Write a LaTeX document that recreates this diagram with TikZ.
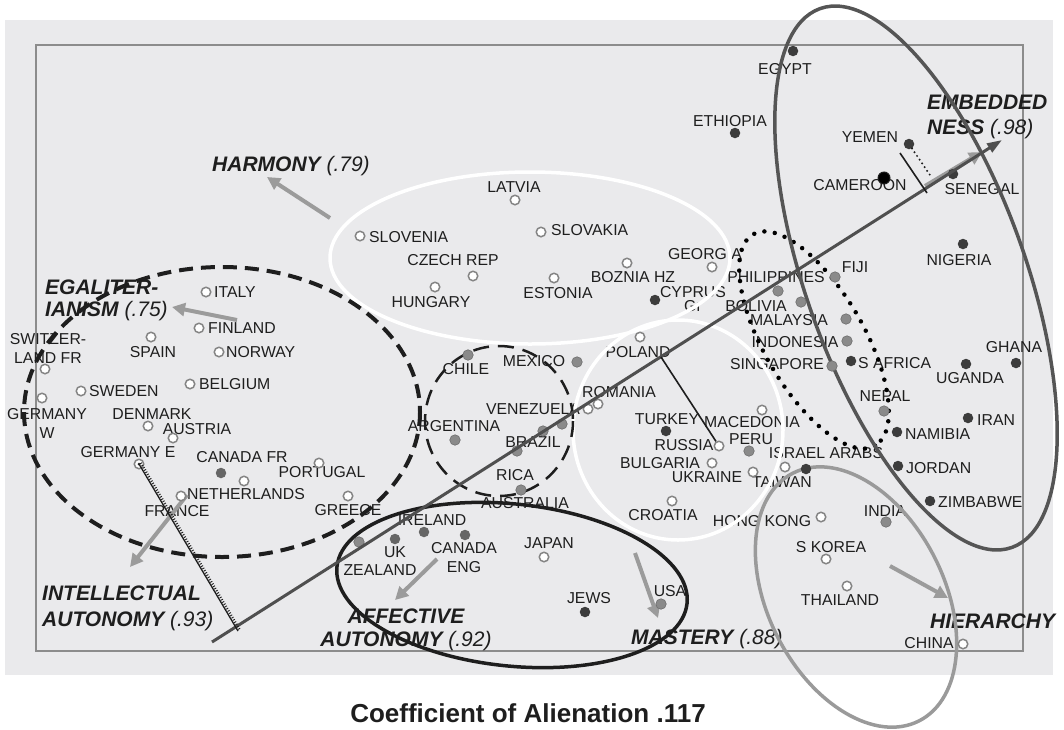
\documentclass[tikz,border=0pt]{standalone}
\usepackage{fontspec}
\setmainfont{Liberation Sans}
\usetikzlibrary{arrows.meta,calc}
\definecolor{bgc}{HTML}{EAEAEC}
\definecolor{framec}{HTML}{8C8C8C}
\definecolor{ink}{HTML}{1E1E1E}
\definecolor{axisc}{HTML}{4F4F4F}
\definecolor{arrowc}{HTML}{9B9B9B}
\definecolor{embc}{HTML}{555555}
\definecolor{hierc}{HTML}{9A9A9A}
\definecolor{ringc}{HTML}{858585}
\definecolor{midc}{HTML}{8A8A8A}
\definecolor{dgc}{HTML}{666666}
\definecolor{dkc}{HTML}{3C3C3C}
\tikzset{
  lb/.style={font=\fontsize{15.8}{19}\selectfont, text=ink, inner sep=0pt, align=center},
  cat/.style={font=\fontsize{21}{22}\selectfont\itshape, text=ink, inner sep=0pt},
  opn/.style={circle, draw=ringc, fill=white, line width=1.5pt, minimum size=9.5pt, inner sep=0pt},
  mid/.style={circle, fill=midc, draw=midc!80!black, line width=0.6pt, minimum size=10.5pt, inner sep=0pt},
  dg/.style={circle, fill=dgc, minimum size=10.5pt, inner sep=0pt},
  dk/.style={circle, fill=dkc, minimum size=10.5pt, inner sep=0pt},
  harm/.style={white, line width=3.5pt},
  egal/.style={ink, line width=4pt, dash pattern=on 14pt off 8pt},
  latin/.style={ink, line width=2.5pt, dash pattern=on 16pt off 9pt},
  mast/.style={ink, line width=3.5pt},
  dotring/.style={black, line width=4.5pt, line cap=round, dash pattern=on 0pt off 10.5pt},
  emb/.style={embc, line width=3.5pt},
  hier/.style={hierc, line width=3.5pt},
  catarrow/.style={arrowc, line width=4pt, -{Triangle[length=13pt,width=13pt]}},
  axisline/.style={axisc, line width=3pt, -{Triangle[length=15pt,width=10pt]}}
}
\begin{document}
\begin{tikzpicture}[x=1pt, y=-1pt]
\useasboundingbox (0,0) rectangle (1064,729);
\fill[bgc] (5,20) rectangle (1053,675);
\draw[framec, line width=2pt] (36,45) rectangle (1023,651);

% ---- value labels ----
\node[cat, anchor=base west] (c-harm) at (212,171.5) {\bfseries HARMONY \mdseries(.79)};
\node[cat, anchor=north west, align=left, font=\fontsize{21}{22}\selectfont\itshape] (c-egal) at (45,279.5) {\bfseries EGALITER-\\\bfseries IANISM \mdseries(.75)};
\node[cat, anchor=north west, align=left, font=\fontsize{21}{26}\selectfont\itshape] (c-intel) at (42,585.5) {\bfseries INTELLECTUAL\\\bfseries AUTONOMY \mdseries(.93)};
\node[cat, anchor=north, align=center, font=\fontsize{21}{23}\selectfont\itshape] (c-affect) at (406,608.5) {\bfseries AFFECTIVE\\\bfseries AUTONOMY \mdseries(.92)};
\node[cat, anchor=north west, align=left, font=\fontsize{21}{25}\selectfont\itshape] (c-emb) at (927,94.5) {\bfseries EMBEDDED\\\bfseries NESS \mdseries(.98)};
\node[cat, anchor=base west] (c-mast) at (631,644.5) {\bfseries MASTERY \mdseries(.88)};
\node[cat, anchor=base west] (c-hier) at (930,628.5) {\bfseries HIERARCHY};
\node[font=\fontsize{26}{30}\selectfont\bfseries, text=ink, inner sep=0pt] (title) at (528,713) {Coefficient of Alienation .117};

% ---- country labels ----
\node[lb, anchor=west] (l-ita) at (214,292) {ITALY};
\node[lb, anchor=west] (l-fin) at (208,328) {FINLAND};
\node[lb] (l-spa) at (153,352) {SPAIN};
\node[lb, anchor=west] (l-nor) at (226,352) {NORWAY};
\node[lb, anchor=north] (l-swi) at (48,333.4) {SWITZER-\\LAND FR};
\node[lb, anchor=west] (l-swe) at (89,391) {SWEDEN};
\node[lb, anchor=west] (l-bel) at (199,384) {BELGIUM};
\node[lb, anchor=north] (l-gew) at (47,408.4) {GERMANY\\W};
\node[lb] (l-den) at (152,414) {DENMARK};
\node[lb] (l-aus) at (197,429) {AUSTRIA};
\node[lb] (l-gee) at (128,452) {GERMANY E};
\node[lb] (l-cfr) at (242,457) {CANADA FR};
\node[lb] (l-net) at (246,494) {NETHERLANDS};
\node[lb] (l-fra) at (177,511) {FRANCE};
\node[lb] (l-por) at (322,472) {PORTUGAL};
\node[lb] (l-gre) at (348,510) {GREECE};
\node[lb] (l-lat) at (514,187) {LATVIA};
\node[lb, anchor=west] (l-slo) at (369,237) {SLOVENIA};
\node[lb, anchor=west] (l-slk) at (551,230) {SLOVAKIA};
\node[lb] (l-cze) at (453,260) {CZECH REP};
\node[lb] (l-hun) at (431,302) {HUNGARY};
\node[lb] (l-est) at (558,293) {ESTONIA};
\node[lb] (l-boz) at (633,277) {BOZNIA HZ};
\node[lb] (l-geo) at (705,254) {GEORGIA};
\node[lb, anchor=north, font=\fontsize{15.8}{14}\selectfont] (l-cyp) at (693,286.4) {CYPRUS\\Gr};
\node[lb] (l-pol) at (638,352) {POLAND};
\node[lb] (l-rom) at (619,392) {ROMANIA};
\node[lb] (l-chi) at (466,369) {CHILE};
\node[lb] (l-mex) at (534,361) {MEXICO};
\node[lb] (l-arg) at (454,426) {ARGENTINA};
\node[lb] (l-ven) at (533,409) {VENEZUELA};
\node[lb] (l-bra) at (533,442) {BRAZIL};
\node[lb] (l-ric) at (515,475) {RICA};
\node[lb] (l-aul) at (525,503) {AUSTRALIA};
\node[lb] (l-tur) at (667,419) {TURKEY};
\node[lb] (l-mac) at (752,422) {MACEDONIA};
\node[lb] (l-rus) at (684,445) {RUSSIA};
\node[lb] (l-per) at (751,439) {PERU};
\node[lb] (l-bul) at (660,463) {BULGARIA};
\node[lb] (l-ukr) at (707,477) {UKRAINE};
\node[lb] (l-isr) at (826,453) {ISRAEL ARABS};
\node[lb] (l-tai) at (782,482) {TAIWAN};
\node[lb] (l-cro) at (663,515) {CROATIA};
\node[lb] (l-hon) at (762,521) {HONG KONG};
\node[lb] (l-ind) at (885,511) {INDIA};
\node[lb] (l-sko) at (831,547) {S KOREA};
\node[lb] (l-tha) at (840,600) {THAILAND};
\node[lb] (l-chn) at (929,643) {CHINA};
\node[lb] (l-jap) at (549,543) {JAPAN};
\node[lb] (l-jew) at (589,598) {JEWS};
\node[lb] (l-usa) at (670,591) {USA};
\node[lb] (l-ire) at (432,520) {IRELAND};
\node[lb] (l-uk) at (395,552) {UK};
\node[lb] (l-nze) at (380,570) {ZEALAND};
\node[lb, anchor=north] (l-ceng) at (464,542.4) {CANADA\\ENG};
\node[lb] (l-egy) at (785,69) {EGYPT};
\node[lb] (l-eth) at (730,121) {ETHIOPIA};
\node[lb] (l-yem) at (870,137) {YEMEN};
\node[lb] (l-cam) at (860,185) {CAMEROON};
\node[lb] (l-sen) at (982,189) {SENEGAL};
\node[lb] (l-nig) at (959,260) {NIGERIA};
\node[lb] (l-fij) at (855,267) {FIJI};
\node[lb] (l-phi) at (776,277) {PHILIPPINES};
\node[lb] (l-bol) at (756,306) {BOLIVIA};
\node[lb] (l-mal) at (789,320) {MALAYSIA};
\node[lb] (l-ino) at (795,342) {INDONESIA};
\node[lb] (l-sin) at (777,364) {SINGAPORE};
\node[lb, anchor=west] (l-saf) at (858,363) {S AFRICA};
\node[lb] (l-gha) at (1014,347) {GHANA};
\node[lb] (l-uga) at (970,378) {UGANDA};
\node[lb] (l-nep) at (885,396) {NEPAL};
\node[lb, anchor=west] (l-ira) at (977,420) {IRAN};
\node[lb, anchor=west] (l-nam) at (905,434) {NAMIBIA};
\node[lb, anchor=west] (l-jor) at (906,468) {JORDAN};
\node[lb, anchor=west] (l-zim) at (938,502) {ZIMBABWE};

% ---- ellipses ----
\draw[harm] (530,258) ellipse [x radius=200, y radius=86];
\draw[harm] (678,430) ellipse [x radius=105, y radius=110];
\draw[egal] (222,412) ellipse [x radius=198, y radius=145];
\draw[latin] (499,421) ellipse [x radius=74, y radius=75];
\draw[mast, rotate around={-6:(512,585)}] (512,585) ellipse [x radius=176, y radius=81];
\draw[dotring, rotate around={-60:(814,340)}] (814,340) ellipse [x radius=122, y radius=50];
\draw[emb, rotate around={-70.4:(916,278)}] (916,278) ellipse [x radius=286, y radius=110];
\draw[hier, rotate around={-63:(856,597)}] (856,597) ellipse [x radius=139, y radius=88];

% ---- value arrows ----
\coordinate (h0) at (330,218); \coordinate (h1) at (267,177);
\coordinate (e0) at (237,320); \coordinate (e1) at (172,307);
\coordinate (i0) at (187,495); \coordinate (i1) at (130,567);
\coordinate (a0) at (437,559); \coordinate (a1) at (395,600);
\coordinate (m0) at (635,553); \coordinate (m1) at (658,618);
\coordinate (r0) at (890,566); \coordinate (r1) at (948,598);
\coordinate (b0) at (925,186); \coordinate (b1) at (982,152);
\draw[catarrow] (h0) -- (h1);
\draw[catarrow] (e0) -- (e1);
\draw[catarrow] (i0) -- (i1);
\draw[catarrow] (a0) -- (a1);
\draw[catarrow] (m0) -- (m1);
\draw[catarrow] (r0) -- (r1);
\draw[catarrow] (b0) -- (b1);

% ---- markers ----
\node[opn] (m-ita) at (206,292) {};
\node[opn] (m-fin) at (199,328) {};
\node[opn] (m-spa) at (151,337) {};
\node[opn] (m-nor) at (219,352) {};
\node[opn] (m-swi) at (45,369) {};
\node[opn] (m-swe) at (81,391) {};
\node[opn] (m-bel) at (190,384) {};
\node[opn] (m-gew) at (42,398) {};
\node[opn] (m-den) at (148,426) {};
\node[opn] (m-aus) at (173,438) {};
\node[opn] (m-gee) at (139,464) {};
\node[dg] (m-cfr) at (221,473) {};
\node[opn] (m-net) at (244,481) {};
\node[opn] (m-fra) at (181,496) {};
\node[opn] (m-por) at (319,463) {};
\node[opn] (m-gre) at (348,496) {};
\node[opn] (m-lat) at (515,200) {};
\node[opn] (m-slo) at (360,236) {};
\node[opn] (m-slk) at (541,232) {};
\node[opn] (m-cze) at (473,276) {};
\node[opn] (m-hun) at (435,287) {};
\node[opn] (m-est) at (554,278) {};
\node[opn] (m-boz) at (627,263) {};
\node[opn] (m-geo) at (712,267) {};
\node[dk] (m-cyp) at (655,300) {};
\node[opn] (m-pol) at (640,337) {};
\node[opn] (m-rom1) at (588,409) {};
\node[opn] (m-rom2) at (598,404) {};
\node[mid] (m-chi) at (468,355) {};
\node[mid] (m-mex) at (577,362) {};
\node[mid] (m-arg) at (455,440) {};
\node[mid] (m-ven1) at (562,424) {};
\node[mid] (m-ven2) at (543,431) {};
\node[mid] (m-bra) at (517,451) {};
\node[mid] (m-aul) at (521,490) {};
\node[dk] (m-tur) at (666,431) {};
\node[opn] (m-mac) at (762,410) {};
\node[opn] (m-rus) at (719,446) {};
\node[mid] (m-per) at (749,451) {};
\node[opn] (m-bul) at (712,463) {};
\node[opn] (m-ukr) at (753,472) {};
\node[opn] (m-tai) at (785,467) {};
\node[dk] (m-isr) at (806,469) {};
\node[opn] (m-cro) at (672,501) {};
\node[opn] (m-hon) at (821,517) {};
\node[mid] (m-ind) at (886,522) {};
\node[opn] (m-sko) at (826,559) {};
\node[opn] (m-tha) at (847,586) {};
\node[opn] (m-chn) at (963,644) {};
\node[opn] (m-jap) at (544,557) {};
\node[dk] (m-jew) at (585,612) {};
\node[mid] (m-usa) at (661,604) {};
\node[dg] (m-ire) at (424,532) {};
\node[dg] (m-uk) at (395,539) {};
\node[mid] (m-nze) at (359,542) {};
\node[dg] (m-ceng) at (465,535) {};
\node[dk] (m-egy) at (793,51) {};
\node[dk] (m-eth) at (735,133) {};
\node[dk] (m-yem) at (909,144) {};
\node[circle, fill=black, draw=ink, line width=1pt, minimum size=12pt, inner sep=0pt] (m-cam) at (884,178) {};
\node[dk] (m-sen) at (953,174) {};
\node[dk] (m-nig) at (963,244) {};
\node[mid] (m-fij) at (835,277) {};
\node[mid] (m-phi) at (778,291) {};
\node[mid] (m-bol) at (801,302) {};
\node[mid] (m-mal) at (846,319) {};
\node[mid] (m-ino) at (847,341) {};
\node[mid] (m-sin) at (832,366) {};
\node[dk] (m-saf) at (851,361) {};
\node[dk] (m-gha) at (1016,363) {};
\node[dk] (m-uga) at (966,364) {};
\node[mid] (m-nep) at (884,411) {};
\node[dk] (m-ira) at (968,418) {};
\node[dk] (m-nam) at (897,432) {};
\node[dk] (m-jor) at (898,466) {};
\node[dk] (m-zim) at (930,501) {};
\fill[ink] (m-gee.center) circle (1.5pt);

% ---- main axis and its cross lines ----
\coordinate (ax0) at (212,642);
\coordinate (ax1) at (1002,140);
\coordinate (plf) at (661,357);
\coordinate (ge1) at (238,631);
\coordinate (yt0) at (900,153);
\coordinate (yt1) at (927,193);
\coordinate (yd) at (932,178);
\draw[axisline] (ax0) -- (ax1);
\draw[ink, line width=1.6pt] (plf) -- (m-rus);
\draw[ink, line width=1.3pt] (m-gee.center) -- (ge1);
\draw[ink, line width=2.4pt, dash pattern=on 0.9pt off 1.7pt] ($(m-gee.center)+(1.8,-1.1)$) -- ($(ge1)+(1.8,-1.1)$);
\draw[ink, line width=1.6pt] (yt0) -- (yt1);
\draw[ink, line width=2.2pt, dash pattern=on 0pt off 4.5pt, line cap=round] (m-yem) -- (yd);
\end{tikzpicture}
\end{document}
